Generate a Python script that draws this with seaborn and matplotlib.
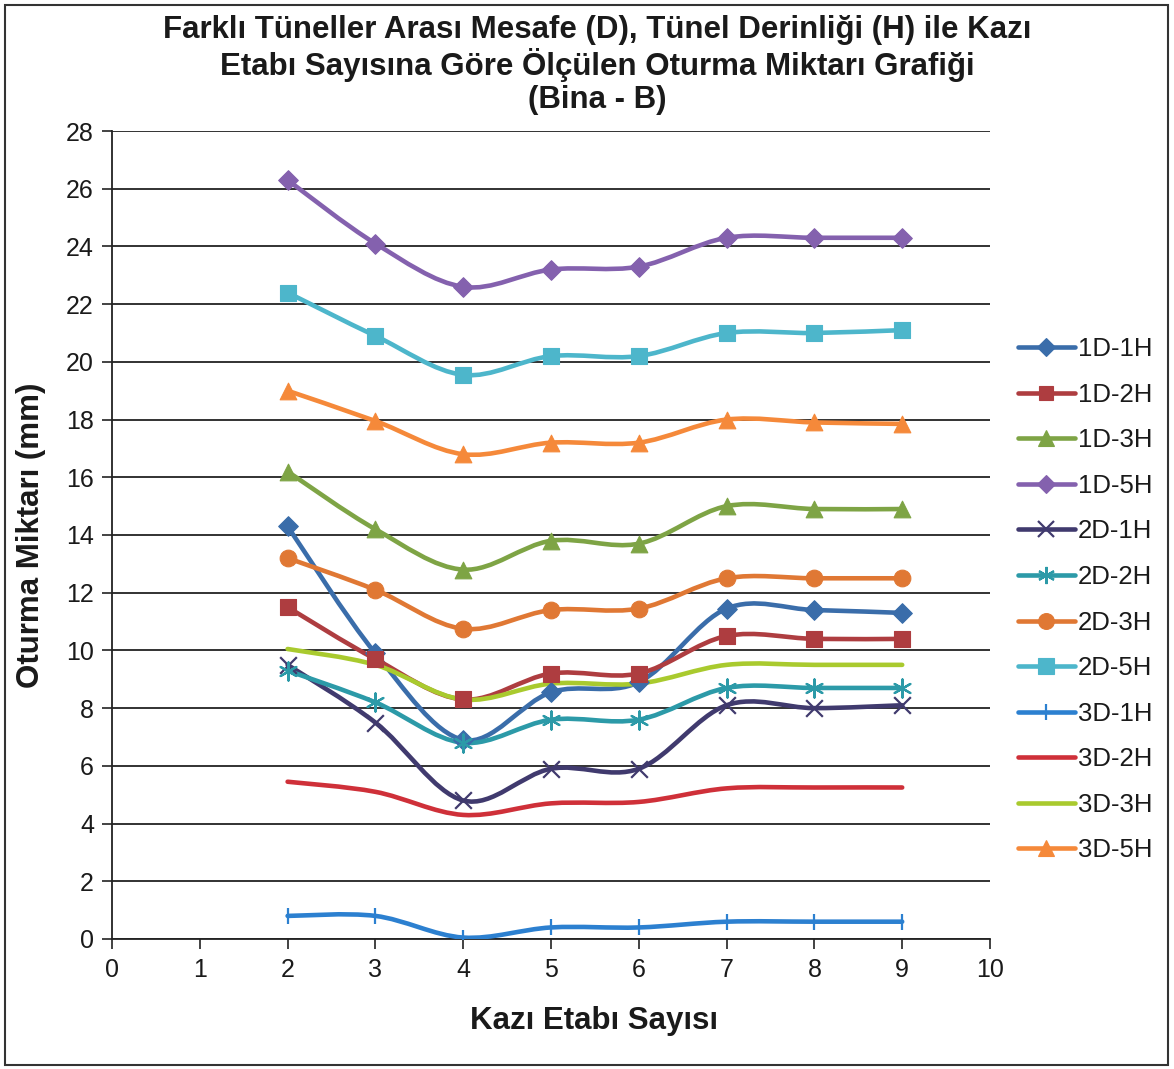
import numpy as np
import pandas as pd
import matplotlib
matplotlib.use("Agg")
import matplotlib.pyplot as plt
from matplotlib.path import Path
from matplotlib.patches import PathPatch, Rectangle
from matplotlib.lines import Line2D
import seaborn as sns

# Kazı etabı sayısı
etap = [2, 3, 4, 5, 6, 7, 8, 9]

# Ölçülen oturma miktarları (mm)
d1_h1 = [14.3, 9.9, 6.9, 8.55, 8.9, 11.45, 11.4, 11.3]
d1_h2 = [11.5, 9.7, 8.3, 9.2, 9.2, 10.5, 10.4, 10.4]
d1_h3 = [16.2, 14.2, 12.8, 13.8, 13.7, 15.0, 14.9, 14.9]
d1_h5 = [26.3, 24.1, 22.6, 23.2, 23.3, 24.3, 24.3, 24.3]
d2_h1 = [9.5, 7.5, 4.8, 5.9, 5.9, 8.1, 8.0, 8.1]
d2_h2 = [9.3, 8.2, 6.8, 7.6, 7.6, 8.7, 8.7, 8.7]
d2_h3 = [13.2, 12.1, 10.75, 11.4, 11.45, 12.5, 12.5, 12.5]
d2_h5 = [22.4, 20.9, 19.55, 20.2, 20.2, 21.0, 21.0, 21.1]
d3_h1 = [0.8, 0.8, 0.05, 0.4, 0.4, 0.6, 0.6, 0.6]
d3_h2 = [5.45, 5.1, 4.3, 4.7, 4.75, 5.22, 5.25, 5.25]
d3_h3 = [10.05, 9.5, 8.3, 8.85, 8.85, 9.5, 9.5, 9.5]
d3_h5 = [19.0, 17.95, 16.8, 17.2, 17.2, 18.0, 17.9, 17.85]

series_names = ["1D-1H", "1D-2H", "1D-3H", "1D-5H", "2D-1H", "2D-2H",
                "2D-3H", "2D-5H", "3D-1H", "3D-2H", "3D-3H", "3D-5H"]
series_values = [d1_h1, d1_h2, d1_h3, d1_h5, d2_h1, d2_h2,
                 d2_h3, d2_h5, d3_h1, d3_h2, d3_h3, d3_h5]

asterisk = (6, 2, 0)
styles = {
    "1D-1H": dict(color="#3A6DAA", marker="D", ms=10),
    "1D-2H": dict(color="#AE3D40", marker="s", ms=11),
    "1D-3H": dict(color="#7EA445", marker="^", ms=12),
    "1D-5H": dict(color="#8461AE", marker="D", ms=10),
    "2D-1H": dict(color="#403A6E", marker="x", ms=12),
    "2D-2H": dict(color="#2C9AA8", marker=asterisk, ms=13),
    "2D-3H": dict(color="#E07834", marker="o", ms=12),
    "2D-5H": dict(color="#4DB6CB", marker="s", ms=12),
    "3D-1H": dict(color="#2C80D0", marker="|", ms=12),
    "3D-2H": dict(color="#CF3039", marker=None, ms=0),
    "3D-3H": dict(color="#A9CA2E", marker=None, ms=0),
    "3D-5H": dict(color="#F5893A", marker="^", ms=12),
}

long_df = pd.DataFrame(
    [(name, x, y) for name, vals in zip(series_names, series_values)
     for x, y in zip(etap, vals)],
    columns=["seri", "etap", "oturma"],
)

sns.set_theme(style="white")
plt.rcParams["font.family"] = ["Liberation Sans", "DejaVu Sans"]

fig = plt.figure(figsize=(11.74, 10.69), dpi=100)
ax = fig.add_axes([112 / 1174, 1 - 939 / 1069, (990 - 112) / 1174, (939 - 131) / 1069])


def smooth_path(xs, ys):
    """Bezier path through the points, with Catmull-Rom style handles."""
    pts = np.column_stack([xs, ys]).astype(float)
    n = len(pts)
    verts = [pts[0]]
    codes = [Path.MOVETO]
    for i in range(n - 1):
        p0 = pts[i - 1] if i > 0 else pts[i]
        p1 = pts[i]
        p2 = pts[i + 1]
        p3 = pts[i + 2] if i + 2 < n else pts[i + 1]
        c1 = p1 + (p2 - p0) / 6.0
        c2 = p2 - (p3 - p1) / 6.0
        verts += [c1, c2, p2]
        codes += [Path.CURVE4] * 3
    return Path(verts, codes)


def is_unfilled(marker):
    return marker in ("x", "|") or marker == asterisk


for z, name in enumerate(series_names):
    st = styles[name]
    sub = long_df[long_df["seri"] == name]
    path = smooth_path(sub["etap"].values, sub["oturma"].values)
    ax.add_patch(PathPatch(path, facecolor="none", edgecolor=st["color"],
                           lw=3.3, capstyle="round", joinstyle="round",
                           zorder=3 + z * 0.01))
    if st["marker"] is not None:
        sns.scatterplot(data=sub, x="etap", y="oturma", ax=ax,
                        marker=st["marker"], s=st["ms"] ** 2,
                        color=st["color"], edgecolor=st["color"],
                        linewidth=1.6 if is_unfilled(st["marker"]) else 0.8,
                        zorder=4 + z * 0.01, legend=False)

ax.set_xlim(0, 10)
ax.set_ylim(0, 28)
ax.set_xticks(range(0, 11))
ax.set_yticks(range(0, 29, 2))
ax.yaxis.grid(True, color="#222222", lw=1.3)
ax.xaxis.grid(False)
ax.set_axisbelow(True)
for side in ("top", "right"):
    ax.spines[side].set_visible(False)
for side in ("left", "bottom"):
    ax.spines[side].set_color("#222222")
    ax.spines[side].set_linewidth(1.3)
ax.tick_params(axis="both", which="major", direction="out", length=7,
               width=1.2, color="#222222", labelsize=18, labelcolor="#1a1a1a",
               left=True, bottom=True)
ax.tick_params(axis="x", pad=7)
ax.tick_params(axis="y", pad=6)

ax.set_xlabel("Kazı Etabı Sayısı", fontsize=22.5, fontweight="bold",
              color="#1a1a1a")
ax.set_ylabel("Oturma Miktarı (mm)", fontsize=22.5, fontweight="bold",
              color="#1a1a1a")
ax.xaxis.set_label_coords((594 - 112) / 878, -0.083)
ax.yaxis.set_label_coords((46 - 112) / 878, 0.5)

fig.text(597 / 1174, 1 - 65 / 1069,
         "Farklı Tüneller Arası Mesafe (D), Tünel Derinliği (H) ile Kazı\n"
         "Etabı Sayısına Göre Ölçülen Oturma Miktarı Grafiği\n(Bina - B)",
         ha="center", va="center", fontsize=22.5, fontweight="bold",
         color="#1a1a1a", linespacing=1.12)

handles = []
for name in series_names:
    st = styles[name]
    handles.append(Line2D([0], [0], color=st["color"], lw=3.3,
                          marker=st["marker"], markersize=st["ms"] * 0.95,
                          markerfacecolor=st["color"], markeredgecolor=st["color"],
                          markeredgewidth=1.6 if is_unfilled(st["marker"]) else 0.8))
fig.legend(handles, series_names, loc="upper left",
           bbox_to_anchor=(1018 / 1174, 1 - 337 / 1069),
           frameon=False, fontsize=18.5, handlelength=2.2, handletextpad=0.12,
           labelspacing=0.84, borderaxespad=0, borderpad=0,
           labelcolor="#1a1a1a")

# outer frame of the chart area
fig.patches.append(Rectangle((5 / 1174, 4 / 1069), 1163 / 1174, 1060 / 1069,
                             transform=fig.transFigure, fill=False,
                             edgecolor="#333333", lw=1.5))

fig.savefig("out.png", dpi=100)
